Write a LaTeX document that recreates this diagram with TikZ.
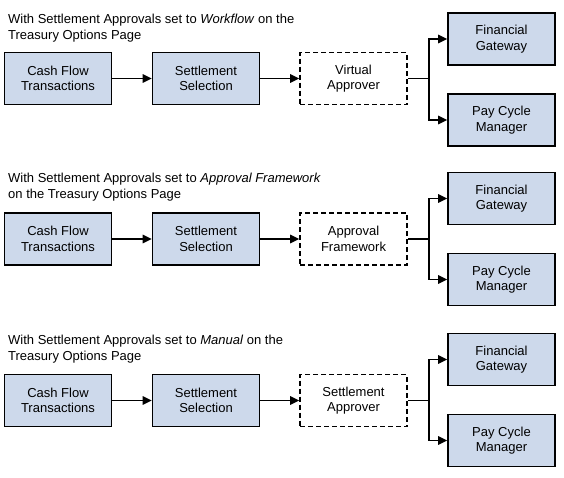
\documentclass[tikz,border=0pt]{standalone}
\usepackage{fontspec}
\setmainfont{Liberation Sans}
\usetikzlibrary{arrows.meta}
\begin{document}
\begin{tikzpicture}[x=1pt,y=-1pt,
  box/.style={draw=black,line width=1.6pt,minimum width=107pt,minimum height=52pt,align=center,inner sep=0pt,
    font=\fontsize{13pt}{15.5pt}\selectfont},
  solidbox/.style={box,fill=boxblue},
  dashbox/.style={box,fill=white,dash pattern=on 5pt off 3pt},
  heading/.style={anchor=base west,align=left,inner sep=0pt,font=\fontsize{13pt}{15.8pt}\selectfont},
  conn/.style={line width=1.6pt,-{Triangle[length=9pt,width=8.5pt]}},
  plain/.style={line width=1.6pt}
]
\definecolor{boxblue}{RGB}{205,217,235}
\useasboundingbox (0,0) rectangle (564,477);
% Row 1
\node[heading] (t1) at (8,39) {With Settlement Approvals set to \textit{Workflow} on the\\Treasury Options Page};
\node[solidbox] (cf1) at (58,78.5) {Cash Flow\\Transactions};
\node[solidbox] (ss1) at (206,78.5) {Settlement\\Selection};
\node[dashbox] (ap1) at (353.5,78.5) {Virtual\\Approver};
\node[solidbox] (fg1) at (501.5,39) {Financial\\Gateway};
\node[solidbox] (pc1) at (501.5,120) {Pay Cycle\\Manager};
\coordinate (j1) at (429,78.5);
\draw[conn] (cf1) -- (ss1);
\draw[conn] (ss1) -- (ap1);
\draw[plain] (ap1.east) -- (j1);
\draw[conn] (j1) |- (fg1.west);
\draw[conn] (j1) |- (pc1.west);
% Row 2
\node[heading] (t2) at (8,198.5) {With Settlement Approvals set to \textit{Approval Framework}\\on the Treasury Options Page};
\node[solidbox] (cf2) at (58,239) {Cash Flow\\Transactions};
\node[solidbox] (ss2) at (206,239) {Settlement\\Selection};
\node[dashbox] (ap2) at (353.5,239) {Approval\\Framework};
\node[solidbox] (fg2) at (501.5,198.5) {Financial\\Gateway};
\node[solidbox] (pc2) at (501.5,279.5) {Pay Cycle\\Manager};
\coordinate (j2) at (429,239);
\draw[conn] (cf2) -- (ss2);
\draw[conn] (ss2) -- (ap2);
\draw[plain] (ap2.east) -- (j2);
\draw[conn] (j2) |- (fg2.west);
\draw[conn] (j2) |- (pc2.west);
% Row 3
\node[heading] (t3) at (8,360.5) {With Settlement Approvals set to \textit{Manual} on the\\Treasury Options Page};
\node[solidbox] (cf3) at (58,400.5) {Cash Flow\\Transactions};
\node[solidbox] (ss3) at (206,400.5) {Settlement\\Selection};
\node[dashbox] (ap3) at (353.5,400.5) {Settlement\\Approver};
\node[solidbox] (fg3) at (501.5,359.5) {Financial\\Gateway};
\node[solidbox] (pc3) at (501.5,440.5) {Pay Cycle\\Manager};
\coordinate (j3) at (429,400.5);
\draw[conn] (cf3) -- (ss3);
\draw[conn] (ss3) -- (ap3);
\draw[plain] (ap3.east) -- (j3);
\draw[conn] (j3) |- (fg3.west);
\draw[conn] (j3) |- (pc3.west);
\end{tikzpicture}
\end{document}
